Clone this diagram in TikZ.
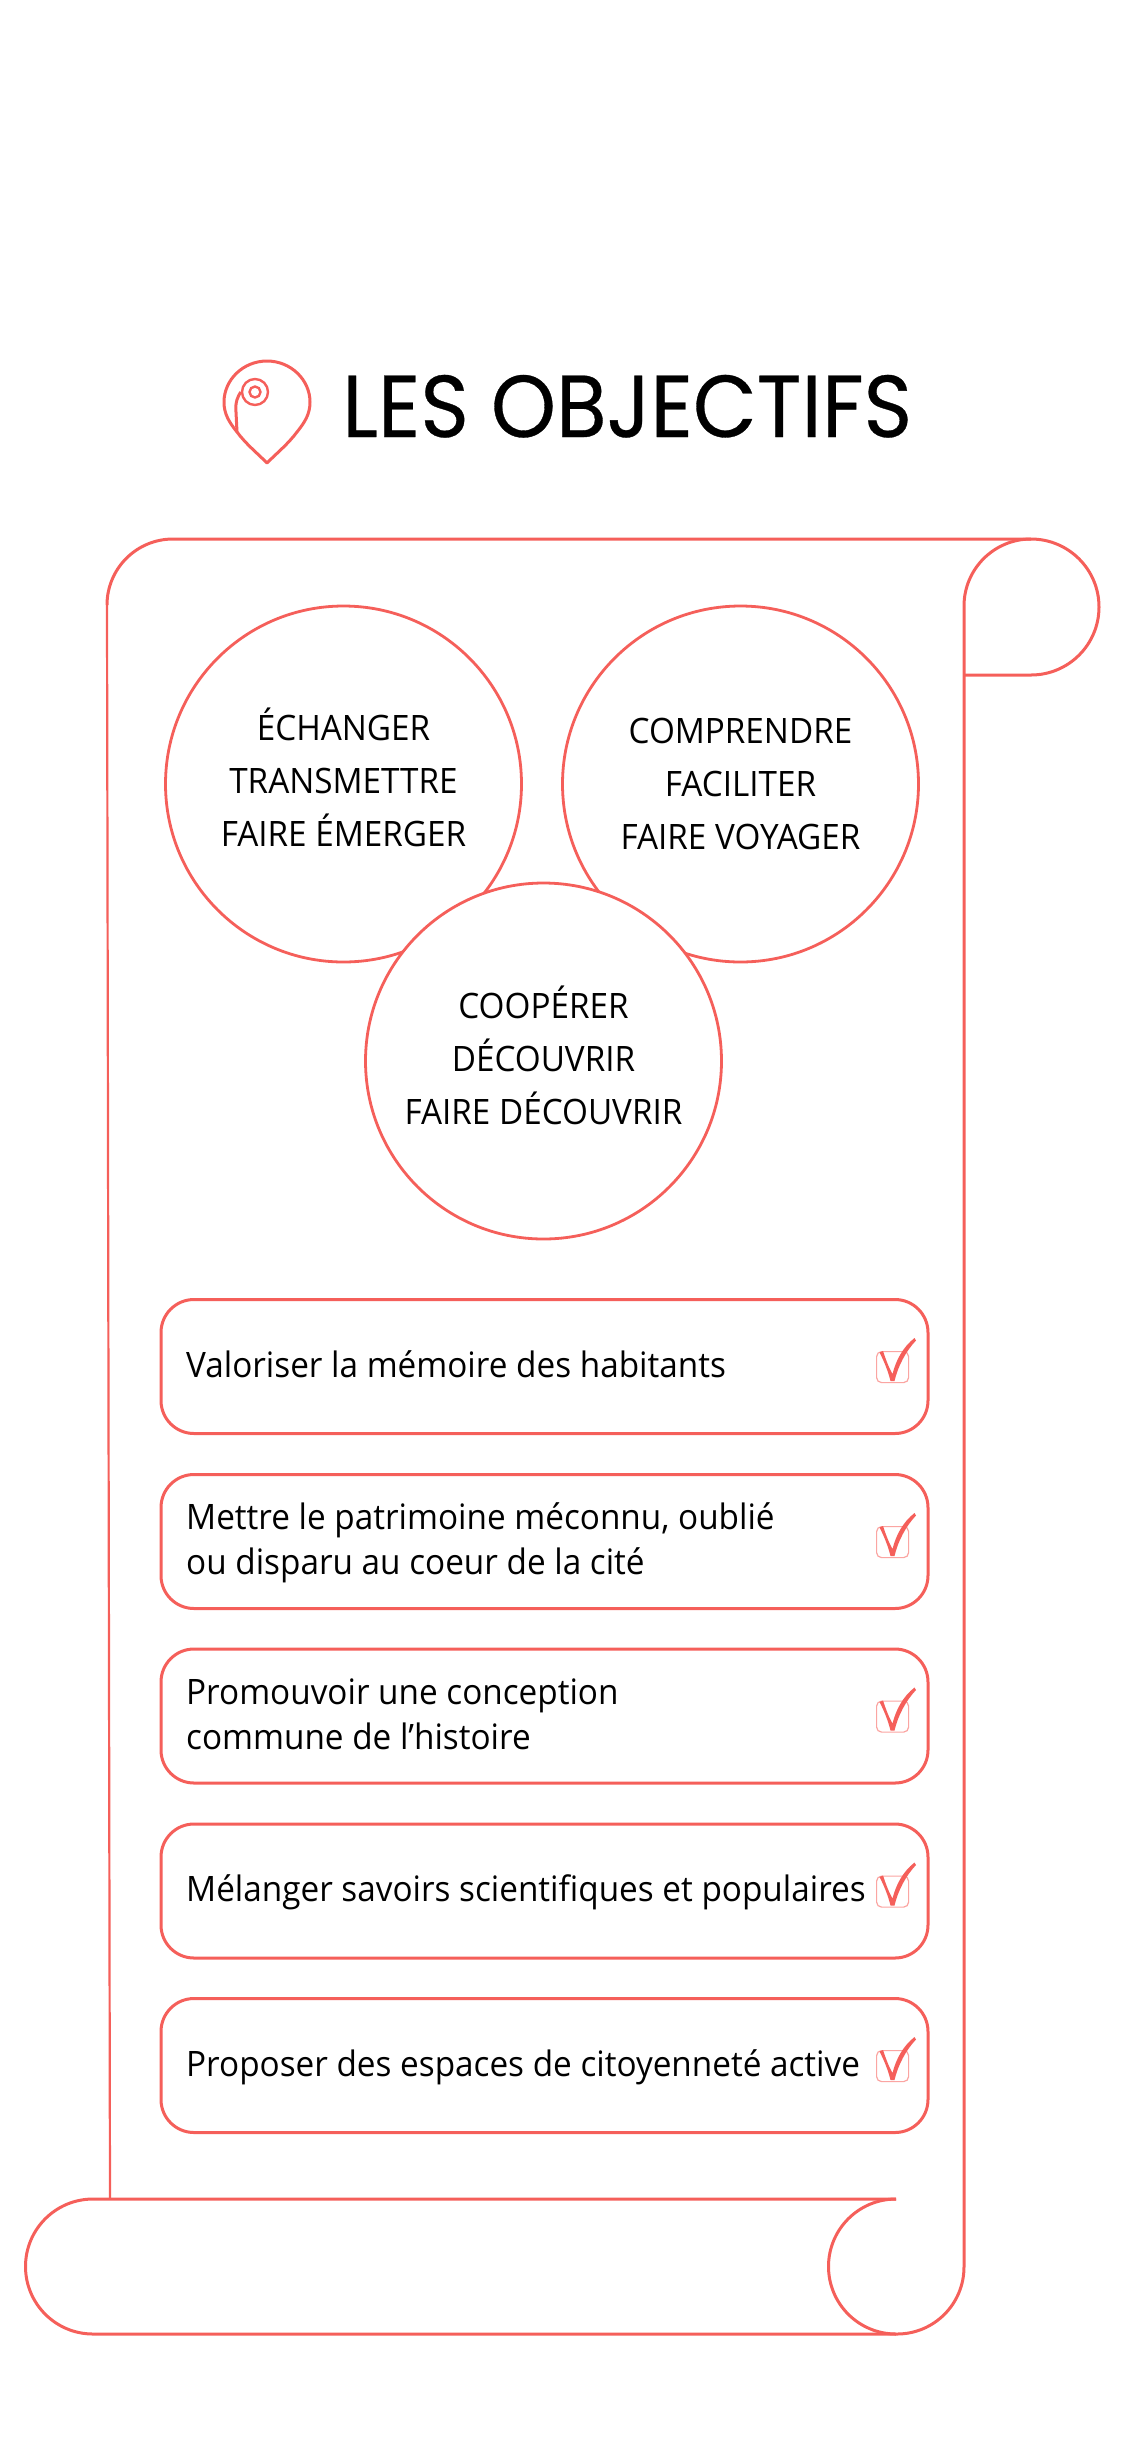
\documentclass[tikz,border=0pt]{standalone}
\usepackage{fontspec}
\setmainfont{Open Sans}
\newfontfamily\bodyfont[FakeStretch=0.95]{Open Sans}
\newfontfamily\titlefont[FakeStretch=0.94,FakeBold=0.35]{Poppins}
\definecolor{coral}{HTML}{F55F5A}
\definecolor{coralpale}{HTML}{FBA5A2}
\tikzset{
  scroll/.style={draw=coral,line width=3pt,line join=round},
  rounddisc/.style={circle,draw=coral,fill=white,line width=2.8pt,minimum size=356pt,inner sep=0pt},
  disctext/.style={anchor=base,inner sep=0pt,align=center,font=\bodyfont\fontsize{35}{53}\selectfont},
  itembox/.style={draw=coral,fill=white,line width=3pt,rounded corners=33pt,minimum width=767pt,minimum height=134pt,anchor=north west,inner sep=0pt},
  itemtext/.style={anchor=base west,inner sep=0pt,align=left,font=\bodyfont\fontsize{35.05}{45}\selectfont},
  checkbox/.style={draw=coralpale,line width=1.2pt,rounded corners=5pt,minimum width=32pt,minimum height=31pt,inner sep=0pt,anchor=north west},
}
\begin{document}
\begin{tikzpicture}[x=1pt,y=-1pt]
\useasboundingbox (0,0) rectangle (1125,2437);
% scroll
\draw[scroll] (107,605) arc[start angle=180,end angle=90,radius=66pt] -- (1031,539)
   arc[start angle=90,end angle=-90,radius=68pt] -- (964,675);
\draw[scroll] (1031,539) arc[start angle=90,end angle=180,radius=67pt] -- (964,2267)
   arc[start angle=0,end angle=-90,radius=67pt] -- (93,2334)
   arc[start angle=-90,end angle=-180,radius=67.5pt]
   arc[start angle=180,end angle=90,radius=67.5pt] -- (896,2199);
\draw[scroll] (896,2199) arc[start angle=90,end angle=270,radius=67.5pt];
\draw[scroll,line width=2.2pt] (107,605) -- (110,2199);
% title
\coordinate (pinjoin) at (237,432);
\draw[scroll] (267,361) .. controls (243,361) and (224,380) .. (224,402)
   .. controls (224,414) and (229,422) .. (237,432)
   .. controls (246,444) and (256,452) .. (267,463)
   .. controls (278,452) and (288,444) .. (297,432)
   .. controls (305,422) and (310,414) .. (310,402)
   .. controls (310,380) and (291,361) .. (267,361) -- cycle;
\node[circle,draw=coral,line width=2.4pt,minimum size=26pt,inner sep=0pt] (ringout) at (255,392) {};
\node[circle,draw=coral,line width=2.4pt,minimum size=11pt,inner sep=0pt] (ringin) at (255,392) {};
\draw[scroll] (ringout.west) .. controls (238,396) and (235,402) .. (236,412) -- (pinjoin);
\node[anchor=base west,inner sep=0pt,font=\titlefont\fontsize{88}{88}\selectfont] (title) at (342,437) {LES OBJECTIFS};
% circles
\node[rounddisc] (ca) at (343.5,784) {};
\node[rounddisc] (cb) at (740.5,784) {};
\node[rounddisc] (cc) at (543.5,1061) {};
\node[disctext] (ta) at ([yshift=-62pt]ca.center) {ÉCHANGER\\TRANSMETTRE\\FAIRE ÉMERGER};
\node[disctext] (tb) at ([yshift=-65pt]cb.center) {COMPRENDRE\\FACILITER\\FAIRE VOYAGER};
\node[disctext] (tc) at ([yshift=-63pt]cc.center) {COOPÉRER\\DÉCOUVRIR\\FAIRE DÉCOUVRIR};
% items
\foreach \n/\y/\tx/\by in {
  1/1298/{Valoriser la mémoire des habitants}/1377,
  2/1473/{Mettre le patrimoine méconnu, oublié\\ou disparu au coeur de la cité}/1574,
  3/1647.5/{Promouvoir une conception\\commune de l’histoire}/1749,
  4/1822.5/{Mélanger savoirs scientifiques et populaires}/1901,
  5/1997/{Proposer des espaces de citoyenneté active}/2076}{
  \node[itembox] (box\n) at (159.5,\y) {};
  \node[itemtext] (txt\n) at (186,\by) {\tx};
  \node[checkbox] (chk\n) at (876,\y+53) {};
  \fill[coral] (879.5,\y+54.5) -- (883,\y+53) .. controls (886,\y+62) and (889,\y+70) .. (892.5,\y+76)
     .. controls (896,\y+62) and (903,\y+49) .. (914.5,\y+40) -- (916,\y+42.5)
     .. controls (906,\y+53) and (898,\y+68) .. (894.5,\y+83) -- (890.5,\y+83)
     .. controls (888,\y+73) and (884,\y+63) .. (879.5,\y+54.5) -- cycle;
}
\end{tikzpicture}
\end{document}
